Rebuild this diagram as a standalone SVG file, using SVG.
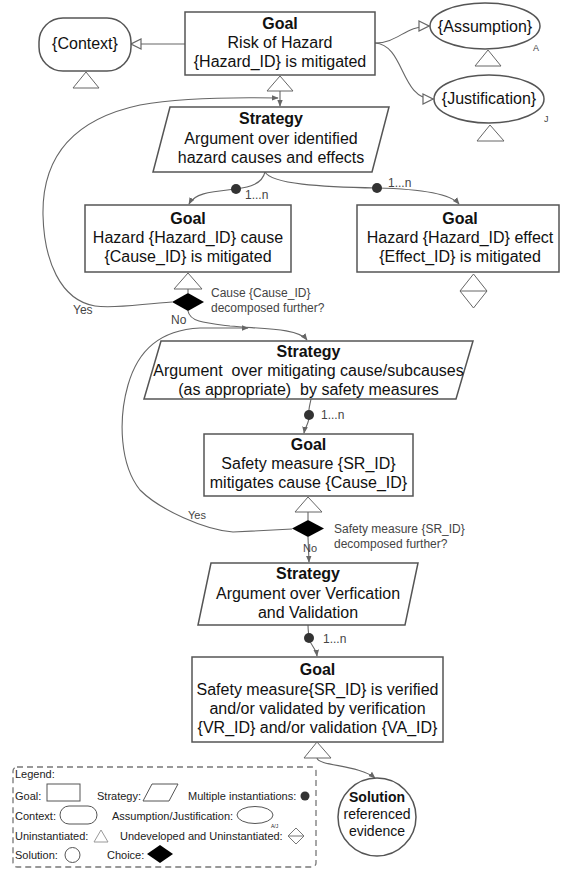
<svg xmlns="http://www.w3.org/2000/svg" width="562" height="869" viewBox="0 0 562 869">
<style>
.box{fill:#fff;stroke:#555;stroke-width:1.5}
.tri{fill:#fff;stroke:#666;stroke-width:1}
.con{fill:none;stroke:#666;stroke-width:1.1}
.t{font-family:'Liberation Sans',Arial,sans-serif;font-size:16px;fill:#111;text-anchor:middle}
.b{font-weight:bold}
.lbl{font-family:'Liberation Sans',Arial,sans-serif;font-size:12px;fill:#444}
.sm{font-size:11px}
.leg{font-family:'Liberation Sans',Arial,sans-serif;font-size:11px;fill:#222}
.dot{fill:#333}
.ch{fill:#000}
</style>
<defs>
<marker id="arr" viewBox="0 0 10 10" refX="9" refY="5" markerWidth="7" markerHeight="7" orient="auto" markerUnits="userSpaceOnUse"><path d="M0,1 L10,5 L0,9 z" fill="#666"/></marker>
<marker id="hol" viewBox="0 0 12 12" refX="11" refY="6" markerWidth="12" markerHeight="12" orient="auto" markerUnits="userSpaceOnUse"><path d="M1,1 L11,6 L1,11 z" fill="#fff" stroke="#666" stroke-width="1.2"/></marker>
</defs>
<rect width="562" height="869" fill="#fff"/>

<g id="connectors">
<line class="con" x1="185" y1="44" x2="131" y2="44" marker-end="url(#hol)"/>
<path class="con" d="M375,43 C398,43 405,26 429,26" marker-end="url(#hol)"/>
<path class="con" d="M375,43 C405,45 400,99 433,99" marker-end="url(#hol)"/>
<path class="con" d="M280,91 L280,106" marker-end="url(#arr)"/>
<path class="con" d="M265,172 C262,184 250,187 236,189 C210,192 195,193 189,204" marker-end="url(#arr)"/>
<path class="con" d="M265,172 C272,184 320,187 377,188 C420,189 450,193 459,204" marker-end="url(#arr)"/>
<path class="con" d="M172,302 C140,304 115,309 95,306 C60,300 44,260 43,215 C42,160 70,120 140,105 C180,98 230,97 278,98" marker-end="url(#arr)"/>
<path class="con" d="M188,311 C190,322 205,323 230,326 C262,329 298,328 307,340" marker-end="url(#arr)"/>
<path class="con" d="M292,529 L233,532 C205,530 160,510 140,490 C120,465 118,420 128,385 C138,350 160,330 200,328 L248,328" marker-end="url(#arr)"/>
<path class="con" d="M311,399 C310,405 308,410 309,415 C310,422 305,427 304,433" marker-end="url(#arr)"/>
<line class="con" x1="188" y1="289" x2="188" y2="293"/>
<line class="con" x1="308" y1="512" x2="308" y2="520"/>
<path class="con" d="M308,537 L309,562" marker-end="url(#arr)"/>
<path class="con" d="M308,625 C308,632 309,635 309,638 C310,645 316,648 317,656" marker-end="url(#arr)"/>
<path class="con" d="M317,758 C318,766 360,765 375,778" marker-end="url(#arr)"/>
<circle class="dot" cx="236" cy="189" r="5"/>
<circle class="dot" cx="377" cy="188" r="5"/>
<circle class="dot" cx="309" cy="415" r="5"/>
<circle class="dot" cx="309" cy="638" r="5"/>
<text class="lbl" x="245" y="199">1...n</text>
<text class="lbl" x="388" y="187">1...n</text>
<text class="lbl" x="321" y="419">1...n</text>
<text class="lbl" x="323" y="643">1...n</text>
<text class="lbl" x="73" y="314">Yes</text>
<text class="lbl" x="171" y="324">No</text>
<text class="lbl sm" x="188" y="519">Yes</text>
<text class="lbl sm" x="303" y="552">No</text>
</g>

<g id="goal-top">
<rect class="box" x="185" y="12" width="190" height="63"/>
<text class="t b" x="280" y="29">Goal</text>
<text class="t" x="280" y="48">Risk of Hazard</text>
<text class="t" x="280" y="67">{Hazard_ID} is mitigated</text>
<polygon class="tri" points="267,91 280,76 293,91"/>
</g>

<g id="context">
<rect class="box" x="39" y="18" width="92" height="53" rx="24"/>
<text class="t" x="85" y="49">{Context}</text>
<polygon class="tri" points="73,88 86,72 99,88"/>
</g>

<g id="assumption">
<ellipse class="box" cx="485" cy="26" rx="55" ry="23"/>
<text class="t" x="485" y="32">{Assumption}</text>
<text class="lbl" x="533" y="51" style="font-size:9px">A</text>
<polygon class="tri" points="475,66 488,50 501,66"/>
</g>

<g id="justification">
<ellipse class="box" cx="489" cy="99" rx="55" ry="24"/>
<text class="t" x="489" y="104">{Justification}</text>
<text class="lbl" x="544" y="122" style="font-size:9px">J</text>
<polygon class="tri" points="477,141 490,125 504,141"/>
</g>

<g id="strategy-1">
<polygon class="box" points="170,107 389,107 372,172 153,172"/>
<text class="t b" x="271" y="124">Strategy</text>
<text class="t" x="271" y="144">Argument over identified</text>
<text class="t" x="271" y="163">hazard causes and effects</text>
</g>

<g id="goal-cause">
<rect class="box" x="85" y="205" width="206" height="67"/>
<text class="t b" x="188" y="224">Goal</text>
<text class="t" x="188" y="243">Hazard {Hazard_ID} cause</text>
<text class="t" x="188" y="262">{Cause_ID} is mitigated</text>
<polygon class="tri" points="174,289 188,273 202,289"/>
</g>

<g id="choice-1">
<polygon class="ch" points="172,302 188,293 204,302 188,311"/>
<text class="lbl" x="211" y="297">Cause {Cause_ID}</text>
<text class="lbl" x="211" y="312">decomposed further?</text>
</g>

<g id="goal-effect">
<rect class="box" x="357" y="205" width="202" height="67"/>
<text class="t b" x="460" y="224">Goal</text>
<text class="t" x="460" y="243">Hazard {Hazard_ID} effect</text>
<text class="t" x="460" y="262">{Effect_ID} is mitigated</text>
<polygon class="tri" points="460,291 473.5,274 487,291 473.5,308"/>
<line class="tri" x1="460" y1="291" x2="487" y2="291"/>
</g>

<g id="strategy-2">
<polygon class="box" points="161,341 473,341 456,399 144,399"/>
<text class="t b" x="308.5" y="357">Strategy</text>
<text class="t" x="308.5" y="376" xml:space="preserve">Argument  over mitigating cause/subcauses</text>
<text class="t" x="308.5" y="395" xml:space="preserve">(as appropriate)  by safety measures</text>
</g>

<g id="goal-sr">
<rect class="box" x="204" y="434" width="209" height="62"/>
<text class="t b" x="308.5" y="450">Goal</text>
<text class="t" x="308.5" y="469">Safety measure {SR_ID}</text>
<text class="t" x="308.5" y="488">mitigates cause {Cause_ID}</text>
<polygon class="tri" points="295,512 308,497 322,512"/>
</g>

<g id="choice-2">
<polygon class="ch" points="292,528.5 308,520 324,528.5 308,537"/>
<text class="lbl" x="334" y="533">Safety measure {SR_ID}</text>
<text class="lbl" x="334" y="548">decomposed further?</text>
</g>

<g id="strategy-3">
<polygon class="box" points="211,563 418,563 405,625 198,625"/>
<text class="t b" x="308" y="579">Strategy</text>
<text class="t" x="308" y="599">Argument over Verfication</text>
<text class="t" x="308" y="618">and Validation</text>
</g>

<g id="goal-final">
<rect class="box" x="192" y="657" width="251" height="85"/>
<text class="t b" x="317.5" y="675">Goal</text>
<text class="t" x="317.5" y="695">Safety measure{SR_ID} is verified</text>
<text class="t" x="317.5" y="714">and/or validated by verification</text>
<text class="t" x="317.5" y="733">{VR_ID} and/or validation {VA_ID}</text>
<polygon class="tri" points="304,758 317,742 331,758"/>
</g>

<g id="solution">
<circle class="box" cx="377" cy="817" r="39"/>
<text class="t b" x="377" y="802" style="font-size:14px">Solution</text>
<text class="t" x="377" y="819" style="font-size:14px">referenced</text>
<text class="t" x="377" y="836" style="font-size:14px">evidence</text>
</g>

<g id="legend">
<rect x="13" y="767" width="303" height="100" rx="4" fill="none" stroke="#777" stroke-width="1.3" stroke-dasharray="6 4"/>
<text class="leg" x="15" y="778">Legend:</text>
<text class="leg" x="15" y="800">Goal:</text>
<rect x="47" y="784" width="33" height="17" fill="#fff" stroke="#555" stroke-width="1"/>
<text class="leg" x="97" y="800">Strategy:</text>
<polygon points="152,784 178,784 169,801 143,801" fill="#fff" stroke="#555" stroke-width="1"/>
<text class="leg" x="188" y="800">Multiple instantiations:</text>
<circle cx="305" cy="796" r="4.5" fill="#333"/>
<text class="leg" x="15" y="820">Context:</text>
<rect x="60" y="806" width="37" height="18" rx="9" fill="#fff" stroke="#555" stroke-width="1"/>
<text class="leg" x="112" y="820">Assumption/Justification:</text>
<ellipse cx="255" cy="815" rx="18" ry="8.5" fill="#fff" stroke="#555" stroke-width="1"/>
<text class="leg" x="271" y="828" style="font-size:5px">A/J</text>
<text class="leg" x="15" y="840">Uninstantiated:</text>
<polygon points="94,842 101,830 108,842" fill="#fff" stroke="#999" stroke-width="1"/>
<text class="leg" x="120" y="840">Undeveloped and Uninstantiated:</text>
<polygon points="288,836 296,828 304,836 296,844" fill="#fff" stroke="#777" stroke-width="1"/>
<line x1="288" y1="836" x2="304" y2="836" stroke="#777" stroke-width="1"/>
<text class="leg" x="15" y="859">Solution:</text>
<circle cx="72.5" cy="855" r="7.5" fill="#fff" stroke="#555" stroke-width="1"/>
<text class="leg" x="107" y="859">Choice:</text>
<polygon points="147,854 160,845 173,854 160,863" fill="#000"/>
</g>
</svg>
